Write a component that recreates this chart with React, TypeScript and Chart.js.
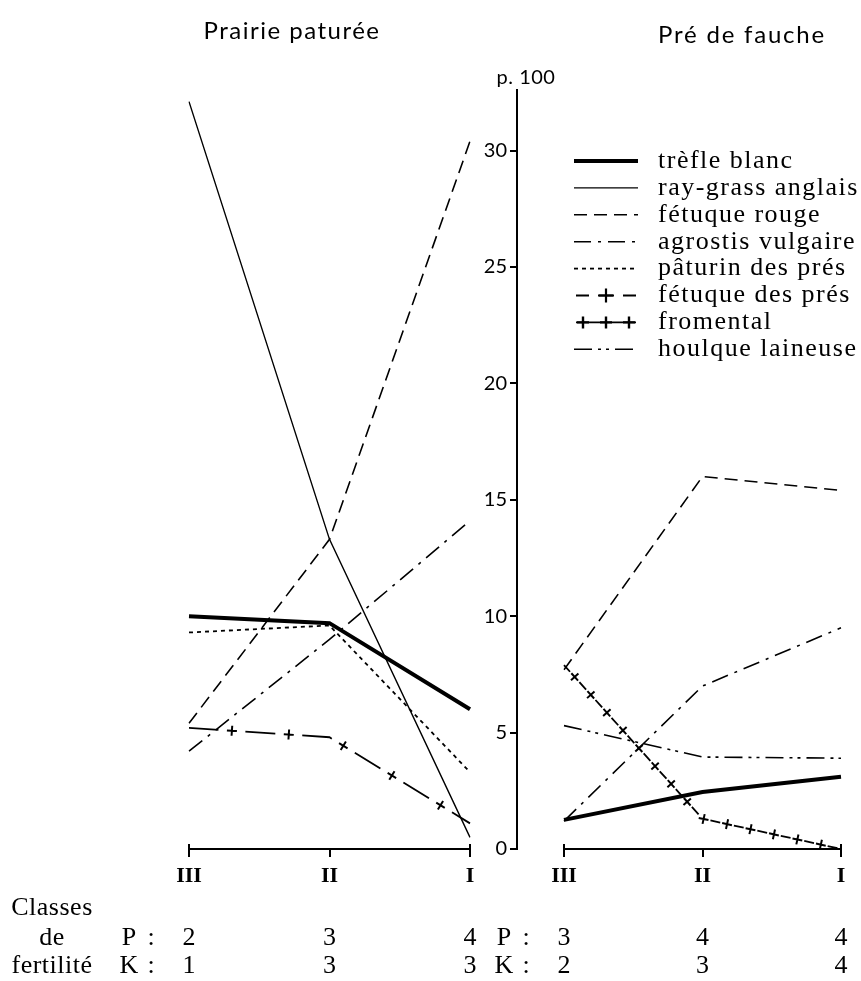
import React, { useEffect, useRef } from 'react';
import { Chart, registerables } from 'chart.js';

Chart.register(...registerables);

// ---------- DATA ----------
const classes = ['III', 'II', 'I'];
const species = [
  'trèfle blanc',
  'ray-grass anglais',
  'fétuque rouge',
  'agrostis vulgaire',
  'pâturin des prés',
  'fétuque des prés',
  'fromental',
  'houlque laineuse',
];

// Prairie pâturée (p. 100)
const pTrefleBlanc = [10.0, 9.7, 6.0];
const pRayGrass = [32.1, 13.3, 0.5];
const pFetuqueRouge = [5.4, 13.3, 30.4];
const pAgrostis = [4.2, 9.0, 14.1];
const pPaturin = [9.3, 9.6, 3.3];
const pFetuquePres = [5.2, 4.8, 1.1];

// Pré de fauche (p. 100)
const fTrefleBlanc = [1.25, 2.45, 3.1];
const fFetuqueRouge = [7.7, 16.0, 15.4];
const fAgrostis = [1.2, 7.0, 9.5];
const fFromental = [7.9, 1.3, 0.0];
const fHoulque = [5.3, 3.95, 3.9];

// Classes de fertilité
const pLevelsPaturee = ['2', '3', '4'];
const kLevelsPaturee = ['1', '3', '3'];
const pLevelsFauche = ['3', '4', '4'];
const kLevelsFauche = ['2', '3', '4'];

const YMAX = 32.6;
const Y_STEP = 5;

// ---------- STYLES ----------
type Sty = { w: number; dash: number[]; off?: number; cross?: { offset: number; spacing: number } };
const STYLE: Record<string, Sty> = {
  'trèfle blanc': { w: 4, dash: [] },
  'ray-grass anglais': { w: 1.4, dash: [] },
  'fétuque rouge': { w: 1.6, dash: [13, 7] },
  'agrostis vulgaire': { w: 1.6, dash: [17, 7, 3, 7] },
  'pâturin des prés': { w: 1.8, dash: [4, 4] },
  'fétuque des prés': { w: 1.8, dash: [30, 27], off: 0.5, cross: { offset: 43, spacing: 57 } },
  'fromental': { w: 1.8, dash: [10, 14], off: 1, cross: { offset: 16, spacing: 24 } },
  'houlque laineuse': { w: 1.6, dash: [18, 6, 3, 5, 3, 6] },
};

const SERIF = '"Liberation Serif", serif';
const SANS = 'Lato, "DejaVu Sans", sans-serif';
const W = 861;
const H = 981;
const AXIS_Y = 849;
const TOP_Y = 90;
const XAXIS_H = 40;

function mk(name: string, data: number[]) {
  const s = STYLE[name];
  return {
    label: name,
    data,
    borderColor: '#000',
    backgroundColor: '#000',
    borderWidth: s.w,
    borderDash: s.dash,
    borderDashOffset: s.off || 0,
    pointRadius: 0,
    tension: 0,
    fill: false,
    cross: s.cross,
  } as any;
}

function txt(ctx: CanvasRenderingContext2D, s: string, x: number, y: number, font: string, align: CanvasTextAlign = 'left', spacing = '0px') {
  ctx.save();
  ctx.font = font;
  ctx.fillStyle = '#000';
  ctx.textAlign = align;
  ctx.textBaseline = 'middle';
  (ctx as any).letterSpacing = spacing;
  ctx.fillText(s, x, y);
  ctx.restore();
}

function drawCross(ctx: CanvasRenderingContext2D, x: number, y: number, ang: number, r = 5, lw = 2) {
  ctx.save();
  ctx.translate(x, y);
  ctx.rotate(ang);
  ctx.setLineDash([]);
  ctx.lineWidth = lw;
  ctx.strokeStyle = '#000';
  ctx.beginPath();
  ctx.moveTo(-r, 0);
  ctx.lineTo(r, 0);
  ctx.moveTo(0, -r);
  ctx.lineTo(0, r);
  ctx.stroke();
  ctx.restore();
}

const crossPlugin = {
  id: 'crosses',
  afterDatasetsDraw(chart: any) {
    const ctx = chart.ctx as CanvasRenderingContext2D;
    chart.data.datasets.forEach((ds: any, di: number) => {
      if (!ds.cross) return;
      const pts = chart.getDatasetMeta(di).data.map((p: any) => ({ x: p.x, y: p.y }));
      let next = ds.cross.offset;
      let cum = 0;
      for (let i = 0; i < pts.length - 1; i++) {
        const a = pts[i];
        const b = pts[i + 1];
        const len = Math.hypot(b.x - a.x, b.y - a.y);
        const ang = Math.atan2(b.y - a.y, b.x - a.x);
        while (next <= cum + len) {
          const t = (next - cum) / len;
          drawCross(ctx, a.x + (b.x - a.x) * t, a.y + (b.y - a.y) * t, ang);
          next += ds.cross.spacing;
        }
        cum += len;
      }
    });
  },
};

function drawFertility(chart: any, pL: string[], kL: string[]) {
  const ctx = chart.ctx as CanvasRenderingContext2D;
  const xs = classes.map((_, i) => chart.scales.x.getPixelForValue(i));
  const f = `26px ${SERIF}`;
  txt(ctx, 'P', xs[0] - 60, 938, f, 'center');
  txt(ctx, ':', xs[0] - 38, 938, f, 'center');
  txt(ctx, 'K', xs[0] - 60, 966, f, 'center');
  txt(ctx, ':', xs[0] - 38, 966, f, 'center');
  xs.forEach((x, i) => {
    txt(ctx, pL[i], x, 938, f, 'center');
    txt(ctx, kL[i], x, 966, f, 'center');
  });
}

// small end caps on the class axes
function drawCaps(chart: any) {
  const ctx = chart.ctx as CanvasRenderingContext2D;
  const xs = [chart.scales.x.getPixelForValue(0), chart.scales.x.getPixelForValue(classes.length - 1)];
  const y = chart.chartArea.bottom;
  ctx.save();
  ctx.strokeStyle = '#000';
  ctx.lineWidth = 2;
  ctx.beginPath();
  xs.forEach((x) => { ctx.moveTo(x, y - 5); ctx.lineTo(x, y); });
  ctx.stroke();
  ctx.restore();
}

const leftTextPlugin = {
  id: 'leftText',
  afterDraw(chart: any) {
    const ctx = chart.ctx as CanvasRenderingContext2D;
    drawCaps(chart);
    txt(ctx, 'Prairie paturée', 292, 31, `24px ${SANS}`, 'center', '1.5px');
    const f = `26px ${SERIF}`;
    txt(ctx, 'Classes', 52, 908, f, 'center', '0.5px');
    txt(ctx, 'de', 52, 938, f, 'center', '0.5px');
    txt(ctx, 'fertilité', 52, 966, f, 'center', '0.5px');
    drawFertility(chart, pLevelsPaturee, kLevelsPaturee);
  },
};

const rightTextPlugin = {
  id: 'rightText',
  afterDraw(chart: any) {
    const ctx = chart.ctx as CanvasRenderingContext2D;
    drawCaps(chart);
    txt(ctx, 'Pré de fauche', 742, 35, `24px ${SANS}`, 'center', '1.8px');
    drawFertility(chart, pLevelsFauche, kLevelsFauche);
    // legend
    const x0 = 574;
    const x1 = 638;
    species.forEach((name, i) => {
      const y = 161 + i * 26.9;
      const s = STYLE[name];
      ctx.save();
      ctx.strokeStyle = '#000';
      ctx.lineWidth = s.w;
      if (name === 'fétuque des prés') {
        ctx.setLineDash([]);
        ctx.beginPath();
        ctx.moveTo(x0 + 2, y); ctx.lineTo(x0 + 15, y);
        ctx.moveTo(x1 - 15, y); ctx.lineTo(x1 - 2, y);
        ctx.moveTo(x0 + 24, y); ctx.lineTo(x1 - 24, y);
        ctx.stroke();
        drawCross(ctx, (x0 + x1) / 2, y, 0, 7, 2.2);
      } else if (name === 'fromental') {
        ctx.setLineDash([]);
        ctx.beginPath();
        ctx.moveTo(x0 + 2, y); ctx.lineTo(x1 - 2, y);
        ctx.stroke();
        [x0 + 9, (x0 + x1) / 2, x1 - 9].forEach((cx) => drawCross(ctx, cx, y, 0, 6, 2.4));
      } else {
        ctx.setLineDash(s.dash);
        ctx.beginPath();
        ctx.moveTo(x0, y);
        ctx.lineTo(x1, y);
        ctx.stroke();
      }
      ctx.restore();
      txt(ctx, name, 658, y, `26px ${SERIF}`, 'left', '1.5px');
    });
  },
};

const axisTextPlugin = {
  id: 'axisText',
  afterDraw(chart: any) {
    txt(chart.ctx, 'p. 100', 526, 78, `20px ${SANS}`, 'center', '0.5px');
  },
};

function xScale() {
  return {
    type: 'category',
    labels: classes,
    offset: false,
    afterFit: (s: any) => { s.height = XAXIS_H; },
    ticks: { font: { family: SERIF, size: 22, weight: 'bold' }, color: '#000', padding: 6, maxRotation: 0, autoSkip: false },
    grid: { drawOnChartArea: false, tickLength: 8, color: '#000', lineWidth: 2 },
    border: { color: '#000', width: 2 },
  };
}

function hiddenY() {
  return { display: false, min: 0, max: YMAX };
}

const baseOpts = {
  responsive: false,
  animation: false,
  devicePixelRatio: 1,
  plugins: { legend: { display: false }, tooltip: { enabled: false } },
};

export default function App() {
  const leftRef = useRef<HTMLCanvasElement>(null);
  const axisRef = useRef<HTMLCanvasElement>(null);
  const rightRef = useRef<HTMLCanvasElement>(null);

  useEffect(() => {
    const left = new Chart(leftRef.current!, {
      type: 'line',
      data: {
        labels: classes,
        datasets: [
          mk('ray-grass anglais', pRayGrass),
          mk('fétuque rouge', pFetuqueRouge),
          mk('agrostis vulgaire', pAgrostis),
          mk('pâturin des prés', pPaturin),
          mk('fétuque des prés', pFetuquePres),
          mk('trèfle blanc', pTrefleBlanc),
        ],
      },
      options: {
        ...baseOpts,
        layout: { padding: { left: 189, right: W - 470, top: TOP_Y, bottom: H - AXIS_Y - XAXIS_H } },
        scales: { x: xScale(), y: hiddenY() },
      } as any,
      plugins: [crossPlugin, leftTextPlugin],
    });

    const axis = new Chart(axisRef.current!, {
      type: 'line',
      data: { labels: [], datasets: [] },
      options: {
        ...baseOpts,
        layout: { padding: { left: 517 - 45, right: W - 527, top: TOP_Y, bottom: H - AXIS_Y } },
        scales: {
          x: { display: false },
          y: {
            min: 0,
            max: YMAX,
            position: 'left',
            afterFit: (s: any) => { s.width = 45; },
            ticks: { stepSize: Y_STEP, includeBounds: false, font: { family: SANS, size: 20 }, color: '#000', padding: 3 },
            grid: { drawOnChartArea: false, tickLength: 7, color: '#000', lineWidth: 2 },
            border: { color: '#000', width: 2 },
          },
        },
      } as any,
      plugins: [axisTextPlugin],
    });

    const right = new Chart(rightRef.current!, {
      type: 'line',
      data: {
        labels: classes,
        datasets: [
          mk('fétuque rouge', fFetuqueRouge),
          mk('agrostis vulgaire', fAgrostis),
          mk('houlque laineuse', fHoulque),
          mk('fromental', fFromental),
          mk('trèfle blanc', fTrefleBlanc),
        ],
      },
      options: {
        ...baseOpts,
        layout: { padding: { left: 564, right: W - 841, top: TOP_Y, bottom: H - AXIS_Y - XAXIS_H } },
        scales: { x: xScale(), y: hiddenY() },
      } as any,
      plugins: [crossPlugin, rightTextPlugin],
    });

    return () => {
      left.destroy();
      axis.destroy();
      right.destroy();
    };
  }, []);

  const cs: React.CSSProperties = { position: 'absolute', left: 0, top: 0 };
  return (
    <div style={{ position: 'absolute', left: 0, top: 0, width: W, height: H, background: '#fff' }}>
      <canvas ref={leftRef} width={W} height={H} style={cs} />
      <canvas ref={axisRef} width={W} height={H} style={cs} />
      <canvas ref={rightRef} width={W} height={H} style={cs} />
    </div>
  );
}
